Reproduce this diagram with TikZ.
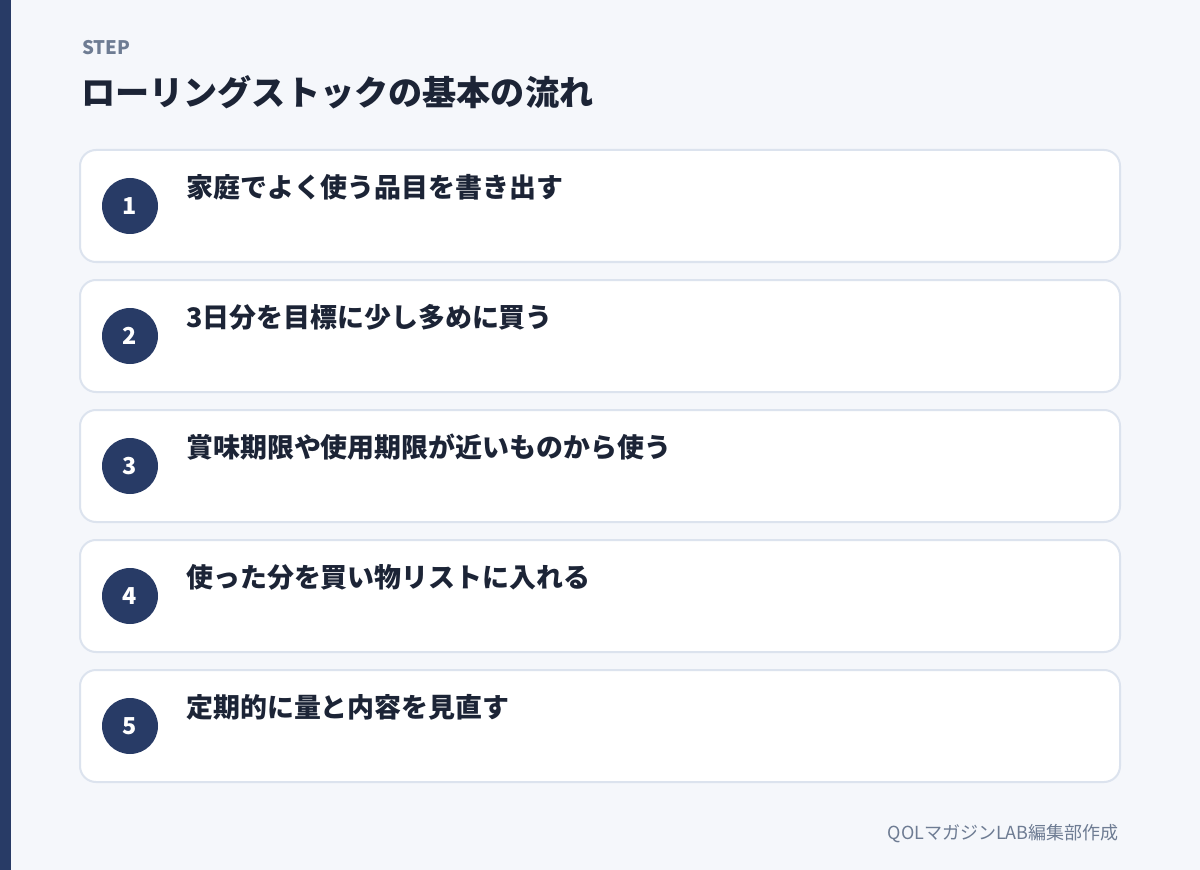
\documentclass[tikz,border=0pt]{standalone}
\usepackage{fontspec}
\usepackage{tikz}
\newfontfamily\jpfont{Noto Sans CJK JP}
\definecolor{navy}{HTML}{283B66}
\definecolor{pagebg}{HTML}{F5F7FB}
\definecolor{cardline}{HTML}{DCE3EE}
\definecolor{inkdark}{HTML}{1C2436}
\definecolor{inkgray}{HTML}{6E7C93}

\begin{document}
\begin{tikzpicture}[x=0.75pt,y=-0.75pt,
  card/.style={draw=cardline,line width=1.5pt,fill=white,rounded corners=12pt},
  numdot/.style={circle,fill=navy,minimum size=42pt,inner sep=0pt,text=white,font=\jpfont\bfseries\fontsize{17.5}{17.5}\selectfont},
  itemtext/.style={anchor=west,inner sep=0pt,text=inkdark,font=\jpfont\bfseries\fontsize{20.2}{20.2}\selectfont}]
  \useasboundingbox (0,0) rectangle (1200,870);
  \fill[pagebg] (0,0) rectangle (1200,870);
  \fill[navy] (0,0) rectangle (11,870);
  \node (steplabel) at (82,48) [anchor=west,inner sep=0pt,text=inkgray,font=\jpfont\bfseries\fontsize{14}{14}\selectfont] {STEP};
  \node (title) at (81,92) [anchor=west,inner sep=0pt,text=inkdark,font=\jpfont\bfseries\fontsize{25.6}{25.6}\selectfont] {ローリングストックの基本の流れ};
  % steps
  \draw[card] (80,150) rectangle (1120,262);
  \node[numdot] (n1) at (130,206) {1};
  \node[itemtext] (t1) at (186,187) {家庭でよく使う品目を書き出す};
  \draw[card] (80,280) rectangle (1120,392);
  \node[numdot] (n2) at (130,336) {2};
  \node[itemtext] (t2) at (186,317) {3日分を目標に少し多めに買う};
  \draw[card] (80,410) rectangle (1120,522);
  \node[numdot] (n3) at (130,466) {3};
  \node[itemtext] (t3) at (186,447) {賞味期限や使用期限が近いものから使う};
  \draw[card] (80,540) rectangle (1120,652);
  \node[numdot] (n4) at (130,596) {4};
  \node[itemtext] (t4) at (186,577) {使った分を買い物リストに入れる};
  \draw[card] (80,670) rectangle (1120,782);
  \node[numdot] (n5) at (130,726) {5};
  \node[itemtext] (t5) at (186,707) {定期的に量と内容を見直す};
  % footer
  \node (credit) at (1119,834) [anchor=east,inner sep=0pt,text=inkgray,font=\jpfont\fontsize{13.5}{13.5}\selectfont] {QOLマガジンLAB編集部作成};
\end{tikzpicture}
\end{document}
